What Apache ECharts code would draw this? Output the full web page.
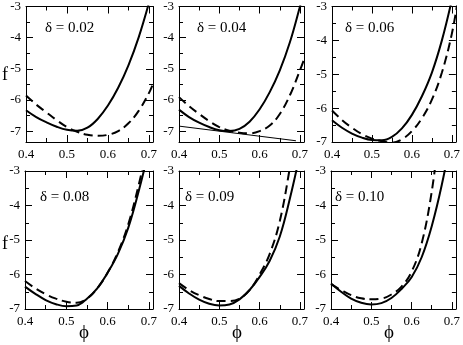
<!DOCTYPE html>
<html><head><meta charset="utf-8">
<script src="https://cdn.jsdelivr.net/npm/echarts@6/dist/echarts.min.js"></script>
<style>html,body{margin:0;padding:0;background:#fff}#c{width:463px;height:345px}</style>
</head><body><div id="c"></div>
<script>
// ---- tick values ----
const xTicks = [0.4, 0.5, 0.6, 0.7];
const xMinorTicks = [0.45, 0.55, 0.65];
const yTicks = [-7, -6, -5, -4, -3];
const yMinorTicks = [-6.5, -5.5, -4.5, -3.5];
const yMins = [-7.35, -7.35, -7, -7, -7, -7];
const deltaLabels = ['δ = 0.02', 'δ = 0.04', 'δ = 0.06', 'δ = 0.08', 'δ = 0.09', 'δ = 0.10'];

// ---- panel 1 (δ = 0.02) ----
const p1SolidX = [0.40, 0.425, 0.45, 0.475, 0.50, 0.525, 0.55, 0.575, 0.60, 0.625, 0.65, 0.675, 0.70];
const p1SolidY = [-6.33, -6.55, -6.72, -6.86, -6.96, -6.99, -6.89, -6.61, -6.18, -5.61, -4.89, -3.99, -2.89];
const p1DashX = [0.40, 0.425, 0.45, 0.475, 0.50, 0.525, 0.55, 0.575, 0.60, 0.625, 0.65, 0.675, 0.70, 0.71];
const p1DashY = [-5.86, -6.15, -6.40, -6.65, -6.87, -7.02, -7.12, -7.15, -7.12, -7.00, -6.75, -6.35, -5.78, -5.48];
// ---- panel 2 (δ = 0.04) ----
const p2SolidX = [0.40, 0.425, 0.45, 0.475, 0.50, 0.525, 0.55, 0.575, 0.60, 0.625, 0.65, 0.675, 0.70, 0.71];
const p2SolidY = [-6.31, -6.55, -6.73, -6.87, -6.97, -7.00, -6.93, -6.70, -6.30, -5.75, -5.05, -4.15, -3.00, -2.50];
const p2DashX = [0.40, 0.425, 0.45, 0.475, 0.50, 0.525, 0.55, 0.575, 0.60, 0.625, 0.65, 0.675, 0.70, 0.71];
const p2DashY = [-5.91, -6.20, -6.45, -6.68, -6.87, -6.99, -7.05, -7.07, -7.00, -6.82, -6.45, -5.85, -5.05, -4.70];
const p2TangentX = [0.40, 0.69];
const p2TangentY = [-6.84, -7.31];
// ---- panel 3 (δ = 0.06) ----
const p3SolidX = [0.40, 0.425, 0.45, 0.475, 0.50, 0.525, 0.55, 0.575, 0.60, 0.625, 0.65, 0.675, 0.70];
const p3SolidY = [-6.36, -6.58, -6.75, -6.87, -6.94, -6.95, -6.85, -6.60, -6.20, -5.65, -4.95, -4.00, -2.80];
const p3DashX = [0.40, 0.425, 0.45, 0.475, 0.50, 0.525, 0.55, 0.575, 0.60, 0.625, 0.65, 0.675, 0.70, 0.715];
const p3DashY = [-6.07, -6.35, -6.58, -6.77, -6.90, -6.98, -7.02, -6.92, -6.68, -6.30, -5.75, -4.95, -3.80, -2.80];
// ---- panel 4 (δ = 0.08) ----
const p4SolidX = [0.40, 0.425, 0.45, 0.475, 0.50, 0.525, 0.55, 0.575, 0.60, 0.625, 0.65, 0.675, 0.70];
const p4SolidY = [-6.35, -6.56, -6.74, -6.86, -6.92, -6.90, -6.70, -6.40, -5.95, -5.40, -4.65, -3.60, -2.40];
const p4DashX = [0.40, 0.425, 0.45, 0.475, 0.50, 0.525, 0.55, 0.575, 0.60, 0.625, 0.65, 0.675, 0.70];
const p4DashY = [-6.19, -6.40, -6.57, -6.70, -6.79, -6.82, -6.70, -6.40, -5.95, -5.35, -4.55, -3.42, -2.10];
// ---- panel 5 (δ = 0.09) ----
const p5SolidX = [0.40, 0.425, 0.45, 0.475, 0.50, 0.525, 0.55, 0.575, 0.60, 0.625, 0.65, 0.675, 0.70];
const p5SolidY = [-6.33, -6.55, -6.73, -6.85, -6.90, -6.87, -6.72, -6.45, -6.07, -5.60, -4.90, -3.80, -2.50];
const p5DashX = [0.40, 0.425, 0.45, 0.475, 0.50, 0.525, 0.55, 0.575, 0.60, 0.625, 0.65, 0.675, 0.69];
const p5DashY = [-6.25, -6.45, -6.60, -6.71, -6.77, -6.77, -6.70, -6.45, -6.00, -5.40, -4.45, -2.90, -1.80];
// ---- panel 6 (δ = 0.10) ----
const p6SolidX = [0.40, 0.425, 0.45, 0.475, 0.50, 0.525, 0.55, 0.575, 0.60, 0.625, 0.65, 0.675, 0.70];
const p6SolidY = [-6.26, -6.50, -6.70, -6.82, -6.87, -6.83, -6.68, -6.42, -6.08, -5.50, -4.60, -3.40, -1.90];
const p6DashX = [0.40, 0.425, 0.45, 0.475, 0.50, 0.525, 0.55, 0.575, 0.60, 0.625, 0.65, 0.665];
const p6DashY = [-6.28, -6.45, -6.60, -6.69, -6.72, -6.70, -6.58, -6.35, -5.92, -5.10, -3.60, -2.20];

const panels = [
  {solid: [p1SolidX, p1SolidY], dash: [p1DashX, p1DashY]},
  {solid: [p2SolidX, p2SolidY], dash: [p2DashX, p2DashY], thin: [p2TangentX, p2TangentY]},
  {solid: [p3SolidX, p3SolidY], dash: [p3DashX, p3DashY]},
  {solid: [p4SolidX, p4SolidY], dash: [p4DashX, p4DashY]},
  {solid: [p5SolidX, p5SolidY], dash: [p5DashX, p5DashY]},
  {solid: [p6SolidX, p6SolidY], dash: [p6DashX, p6DashY]}
];

const grids = [
  {left: 26, top: 5, width: 127, height: 137},
  {left: 179, top: 5, width: 125, height: 137},
  {left: 332, top: 5, width: 125, height: 137},
  {left: 25, top: 171, width: 128, height: 138},
  {left: 179, top: 171, width: 125, height: 138},
  {left: 331, top: 171, width: 126, height: 138}
];
const labelPos = [[45, 21], [197, 21], [345, 21], [40, 190], [185, 190], [335, 190]];

const FONT = 'Liberation Serif';
function zip(xs, ys) { return xs.map((x, i) => [x, ys[i]]); }

const xAxes = [], yAxes = [], series = [], graphic = [];
grids.forEach((g, i) => {
  const ymin = yMins[i];
  [['bottom', true], ['bottom', false], ['top', true], ['top', false]].forEach(([pos, major]) => {
    xAxes.push({
      type: 'value', gridIndex: i, position: pos, min: 0.4, max: 0.71,
      axisLine: {show: major, onZero: false, lineStyle: {color: '#000', width: 1}},
      splitLine: {show: false},
      axisTick: {show: true, inside: true, length: major ? 7 : 4,
        customValues: major ? xTicks : xMinorTicks, lineStyle: {color: '#000', width: 1}},
      axisLabel: {show: major && pos === 'bottom', customValues: xTicks,
        formatter: v => v.toFixed(1), color: '#000', fontFamily: FONT, fontSize: 13, margin: 6}
    });
  });
  [['left', true], ['left', false], ['right', true], ['right', false]].forEach(([pos, major]) => {
    yAxes.push({
      type: 'value', gridIndex: i, position: pos, min: ymin, max: -3,
      axisLine: {show: major, onZero: false, lineStyle: {color: '#000', width: 1}},
      splitLine: {show: false},
      axisTick: {show: true, inside: true, length: major ? 7 : 4,
        customValues: (major ? yTicks : yMinorTicks).filter(v => v >= ymin), lineStyle: {color: '#000', width: 1}},
      axisLabel: {show: major && pos === 'left', customValues: yTicks.filter(v => v >= ymin),
        formatter: v => String(v), color: '#000', fontFamily: FONT, fontSize: 13, margin: 5}
    });
  });
  const p = panels[i];
  series.push({type: 'line', xAxisIndex: i * 4, yAxisIndex: i * 4, data: zip(p.solid[0], p.solid[1]),
    smooth: 0.4, showSymbol: false, clip: true, lineStyle: {color: '#000', width: 2}});
  series.push({type: 'line', xAxisIndex: i * 4, yAxisIndex: i * 4, data: zip(p.dash[0], p.dash[1]),
    smooth: 0.4, showSymbol: false, clip: true, lineStyle: {color: '#000', width: 2, type: [9, 5]}});
  if (p.thin) {
    series.push({type: 'line', xAxisIndex: i * 4, yAxisIndex: i * 4, data: zip(p.thin[0], p.thin[1]),
      showSymbol: false, clip: true, lineStyle: {color: '#000', width: 1}});
  }
  graphic.push({type: 'text', left: labelPos[i][0], top: labelPos[i][1],
    style: {text: deltaLabels[i], font: '15px "' + FONT + '"', fill: '#000'}});
});
graphic.push({type: 'text', left: 2, top: 66, style: {text: 'f', font: '18px "' + FONT + '"', fill: '#000'}});
graphic.push({type: 'text', left: 2, top: 235, style: {text: 'f', font: '18px "' + FONT + '"', fill: '#000'}});
[85, 238, 390].forEach(cx => {
  graphic.push({type: 'text', left: cx - 6, top: 324, style: {text: 'ϕ', font: '19px "' + FONT + '"', fill: '#000'}});
});

const chart = echarts.init(document.getElementById('c'), null, {renderer: 'canvas'});
chart.setOption({
  animation: false,
  backgroundColor: '#fff',
  grid: grids.map(g => Object.assign({containLabel: false}, g)),
  xAxis: xAxes, yAxis: yAxes, series, graphic
});
</script></body></html>
